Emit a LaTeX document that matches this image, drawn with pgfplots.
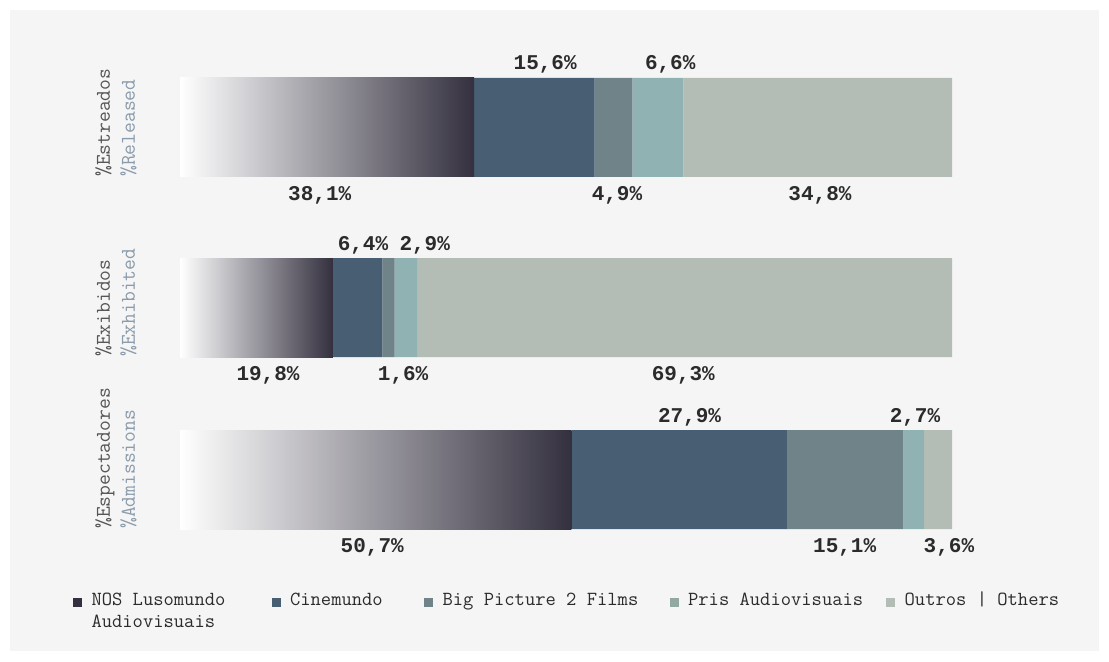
\documentclass[border=0pt]{standalone}
\usepackage{fontspec}
\usepackage{pgfplots}
\pgfplotsset{compat=1.18}
\newfontfamily\valfont{Liberation Mono}
\definecolor{panel}{HTML}{F5F5F5}
\definecolor{nos}{HTML}{34303F}
\definecolor{cine}{HTML}{485E73}
\definecolor{bigp}{HTML}{6F8388}
\definecolor{pris}{HTML}{90B2B3}
\definecolor{prisleg}{HTML}{91A9A0}
\definecolor{outros}{HTML}{B4BDB5}
\definecolor{txt}{HTML}{2B2B2B}
\definecolor{lab}{HTML}{555555}
\definecolor{labsub}{HTML}{8A9BAB}
\tikzset{
  val/.style={inner sep=0pt, text=txt, font=\valfont\bfseries\fontsize{15.75}{18}\selectfont},
  vup/.style={val, anchor=base, yshift=6pt},
  vdn/.style={val, anchor=north, yshift=-7pt},
  ylab/.style={rotate=90, anchor=south west, align=left, inner sep=0pt,
    font=\ttfamily\fontsize{15.75}{18.75}\selectfont},
}
\begin{document}
\begin{tikzpicture}
\fill[white] (0,0) rectangle (831.75pt,495.75pt);
\fill[panel] (7.5pt,7.5pt) rectangle (824.25pt,488.25pt);
\begin{axis}[
  at={(135pt,99pt)}, anchor=south west,
  scale only axis, width=579pt, height=338.25pt,
  xmin=0, xmax=100, ymin=-49.5, ymax=401.5,
  hide axis, clip=false,
  xbar stacked, bar width=99,
  legend columns=5,
  legend style={at={(axis description cs:-0.1386,-0.1397)}, anchor=north west,
    draw=none, fill=none, inner sep=0pt, outer sep=0pt, column sep=0pt,
    cells={anchor=base west},
    nodes={inner sep=0pt, text depth=, text=txt, font=\ttfamily\fontsize{15}{16}\selectfont}},
]
% rows: Espectadores y=0, Exibidos y=172, Estreados y=352
% NOS Lusomundo, one plot per row so that each bar gets its own gradient
\addplot[forget plot, draw=none, left color=white, right color=nos] coordinates {(38.1,352) (0,172) (0,0)};
\addplot[forget plot, draw=none, left color=white, right color=nos] coordinates {(0,352) (19.8,172) (0,0)};
\addplot[forget plot, draw=none, left color=white, right color=nos] coordinates {(0,352) (0,172) (50.7,0)};
\addplot[forget plot, draw=none, fill=cine] coordinates {(15.6,352) (6.4,172) (27.9,0)};
\addplot[forget plot, draw=none, fill=bigp] coordinates {(4.9,352) (1.6,172) (15.1,0)};
\addplot[forget plot, draw=none, fill=pris] coordinates {(6.6,352) (2.9,172) (2.7,0)};
\addplot[forget plot, draw=none, fill=outros] coordinates {(34.8,352) (69.3,172) (3.6,0)};

\addlegendimage{legend image code/.code={\fill[nos] (0pt,0pt) rectangle (6pt,6pt);}}
\addlegendentry{\hspace{7.5pt}\makebox[135pt][l]{\vtop{\hbox{NOS Lusomundo}\hbox{Audiovisuais}}}}
\addlegendimage{legend image code/.code={\fill[cine] (0pt,0pt) rectangle (6pt,6pt);}}
\addlegendentry{\hspace{7.5pt}\makebox[100.5pt][l]{Cinemundo}}
\addlegendimage{legend image code/.code={\fill[bigp] (0pt,0pt) rectangle (6pt,6pt);}}
\addlegendentry{\hspace{7.5pt}\makebox[170.25pt][l]{Big Picture 2 Films}}
\addlegendimage{legend image code/.code={\fill[prisleg] (0pt,0pt) rectangle (6pt,6pt);}}
\addlegendentry{\hspace{7.5pt}\makebox[148.5pt][l]{Pris Audiovisuais}}
\addlegendimage{legend image code/.code={\fill[outros] (0pt,0pt) rectangle (6pt,6pt);}}
\addlegendentry{\hspace{7.5pt}Outros | Others}

% value labels
\node[vdn] at (axis cs:18.1,302.5) {38,1\%};
\node[vup] at (axis cs:47.3,401.5) {15,6\%};
\node[vdn] at (axis cs:56.6,302.5) {4,9\%};
\node[vup] at (axis cs:63.5,401.5) {6,6\%};
\node[vdn] at (axis cs:82.9,302.5) {34,8\%};

\node[vdn] at (axis cs:11.4,122.5) {19,8\%};
\node[vup] at (axis cs:23.7,221.5) {6,4\%};
\node[vdn] at (axis cs:28.9,122.5) {1,6\%};
\node[vup] at (axis cs:31.7,221.5) {2,9\%};
\node[vdn] at (axis cs:65.2,122.5) {69,3\%};

\node[vdn] at (axis cs:24.9,-49.5) {50,7\%};
\node[vup] at (axis cs:66.0,49.5) {27,9\%};
\node[vdn] at (axis cs:86.1,-49.5) {15,1\%};
\node[vup] at (axis cs:95.2,49.5) {2,7\%};
\node[vdn] at (axis cs:99.6,-49.5) {3,6\%};

% row labels
\node[ylab] at (axis cs:-5.57,302.5) {\textcolor{lab}{\%Estreados}\\\textcolor{labsub}{\%Released}};
\node[ylab] at (axis cs:-5.57,122.5) {\textcolor{lab}{\%Exibidos}\\\textcolor{labsub}{\%Exhibited}};
\node[ylab] at (axis cs:-5.57,-49.5) {\textcolor{lab}{\%Espectadores}\\\textcolor{labsub}{\%Admissions}};
\end{axis}
\end{tikzpicture}
\end{document}
